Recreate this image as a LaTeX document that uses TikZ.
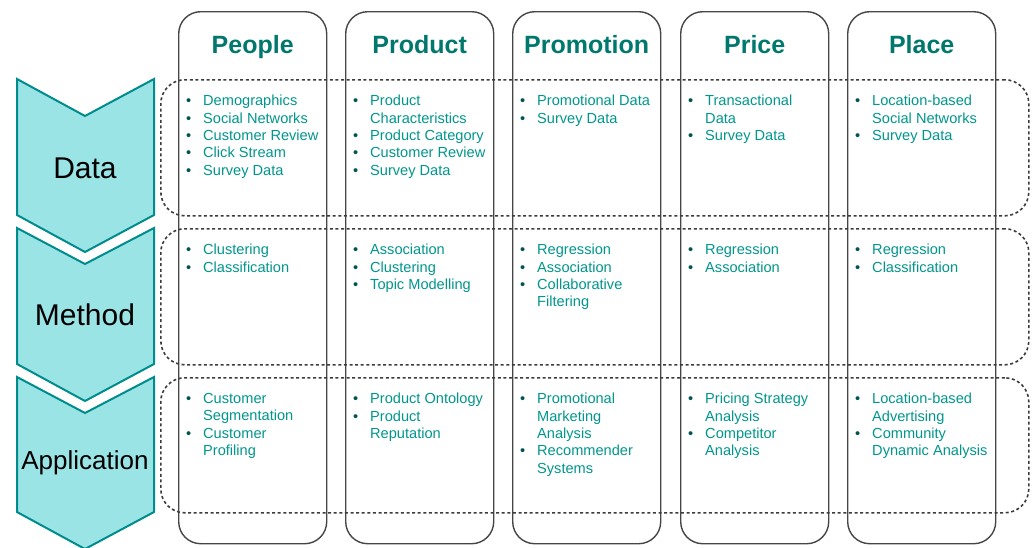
\documentclass[tikz,border=0pt]{standalone}
\usepackage{fontspec}
\setmainfont{Liberation Sans}
\usetikzlibrary{positioning}
\definecolor{itemteal}{RGB}{0,150,140}
\definecolor{headteal}{RGB}{0,120,110}
\definecolor{dotteal}{RGB}{0,85,80}
\definecolor{chevfill}{RGB}{155,228,230}
\definecolor{chevline}{RGB}{0,140,140}
\definecolor{colline}{RGB}{70,70,70}
\definecolor{dashline}{RGB}{60,60,60}
\newcommand{\bl}{\makebox[17pt][l]{\textcolor{dotteal}{\textbullet}}}% bullet
\newcommand{\ct}{\hspace*{17pt}}% continued line
\tikzset{
  chevron/.style = {fill=chevfill, draw=chevline, line width=2pt,
    line join=miter},% stage arrow
  stage/.style = {font=\fontsize{30}{36}\selectfont, text=black},% stage name
  mixcol/.style = {draw=colline, line width=1.4pt, rounded corners=22pt,
    anchor=north west, minimum width=148pt, minimum height=532pt,
    inner sep=0pt},% one of the 4P+1 columns
  mixhead/.style = {font=\bfseries\fontsize{25}{30}\selectfont,
    text=headteal, text height=18pt, text depth=5pt},% column title
  band/.style = {draw=dashline, line width=1.6pt, dash pattern=on 3pt off 2.6pt,
    rounded corners=24pt, anchor=north west, minimum width=868pt,
    minimum height=136pt, inner sep=0pt},% dashed stage band
  items/.style = {anchor=north west, align=left, inner sep=0pt,
    font=\fontsize{14.6}{17.4}\selectfont, text=itemteal}% bullet list
}

\begin{document}
\begin{tikzpicture}[x=1pt, y=-1pt]
  \useasboundingbox (0,0) rectangle (1032,547);

  % stages down the left side
  \draw[chevron] (17,79) -- (85,116) -- (154,79) -- (154,215) -- (85,252) -- (17,215) -- cycle;
  \draw[chevron] (17,228) -- (85,264) -- (154,228) -- (154,364) -- (85,401) -- (17,364) -- cycle;
  \draw[chevron] (17,377) -- (85,413) -- (154,377) -- (154,512) -- (85,549) -- (17,512) -- cycle;
  \node[stage] (data) at (85,168) {Data};
  \node[stage] (method) at (85,315) {Method};
  \node[stage, font=\fontsize{26}{31}\selectfont] (application) at (85,463) {Application};

  % marketing mix columns
  \foreach \col/\x/\title in {people/178/People, product/345/Product,
      promotion/512/Promotion, price/680/Price, place/847/Place} {
    \node[mixcol] (\col) at (\x,11) {};
    \node[mixhead] (\col-head) at ([yshift=-36pt]\col.north) {\title};
  }

  % dashed bands
  \node[band] (data-band) at (160,79) {};
  \node[band] (method-band) at (160,228) {};
  \node[band, minimum height=135pt] (application-band) at (160,377) {};

  % data
  \node[items] (people-data) at (186,95) {\bl Demographics\\ \bl Social Networks\\
    \bl Customer Review\\ \bl Click Stream\\ \bl Survey Data};
  \node[items] (product-data) at (353,95) {\bl Product\\ \ct Characteristics\\
    \bl Product Category\\ \bl Customer Review\\ \bl Survey Data};
  \node[items] (promotion-data) at (520,95) {\bl Promotional Data\\ \bl Survey Data};
  \node[items] (price-data) at (688,95) {\bl Transactional\\ \ct Data\\ \bl Survey Data};
  \node[items] (place-data) at (855,95) {\bl Location-based\\ \ct Social Networks\\
    \bl Survey Data};

  % method
  \node[items] (people-method) at (186,244) {\bl Clustering\\ \bl Classification};
  \node[items] (product-method) at (353,244) {\bl Association\\ \bl Clustering\\
    \bl Topic Modelling};
  \node[items] (promotion-method) at (520,244) {\bl Regression\\ \bl Association\\
    \bl Collaborative\\ \ct Filtering};
  \node[items] (price-method) at (688,244) {\bl Regression\\ \bl Association};
  \node[items] (place-method) at (855,244) {\bl Regression\\ \bl Classification};

  % application
  \node[items] (people-application) at (186,393) {\bl Customer\\ \ct Segmentation\\
    \bl Customer\\ \ct Profiling};
  \node[items] (product-application) at (353,393) {\bl Product Ontology\\ \bl Product\\
    \ct Reputation};
  \node[items] (promotion-application) at (520,393) {\bl Promotional\\ \ct Marketing\\
    \ct Analysis\\ \bl Recommender\\ \ct Systems};
  \node[items] (price-application) at (688,393) {\bl Pricing Strategy\\ \ct Analysis\\
    \bl Competitor\\ \ct Analysis};
  \node[items] (place-application) at (855,393) {\bl Location-based\\ \ct Advertising\\
    \bl Community\\ \ct Dynamic Analysis};
\end{tikzpicture}
\end{document}
